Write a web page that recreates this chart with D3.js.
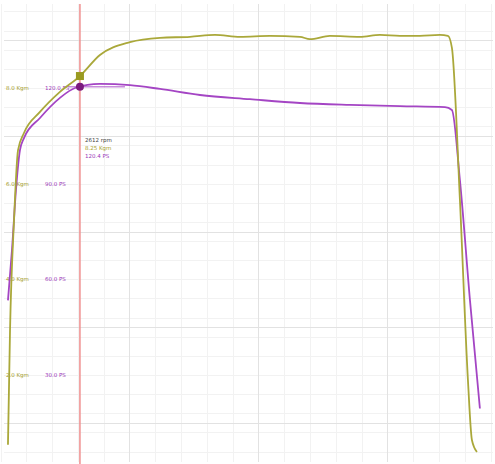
<!DOCTYPE html>
<html>
<head>
<meta charset="utf-8">
<style>
body { margin: 0; background: #fff; }
.grid line { shape-rendering: crispEdges; }
text { font-family: "DejaVu Sans", sans-serif; }
</style>
</head>
<body>
<div id="chart"></div>
<script src="https://d3js.org/d3.v7.min.js"></script>
<script>

var width = 495, height = 464;

// engine speed (rpm) and torque (Kgm) of the yellow run
var torqueRpm = [2054, 2070, 2101, 2132, 2178, 2302, 2457, 2612, 2767, 3000, 3233, 3465, 3659, 3853, 4085, 4318, 4395, 4550, 4783, 4938, 5093, 5248, 5403, 5465, 5496, 5558, 5620, 5651, 5690];
var torqueKgm = [0.54, 2.94, 5.24, 6.70, 7.06, 7.50, 7.92, 8.25, 8.69, 8.96, 9.05, 9.07, 9.11, 9.07, 9.09, 9.07, 9.02, 9.09, 9.07, 9.11, 9.09, 9.09, 9.11, 9.09, 8.84, 5.66, 1.90, 0.64, 0.39];

// power (PS) of the purple run
var powerRpm = [2054, 2085, 2116, 2147, 2178, 2302, 2457, 2574, 2767, 3000, 3233, 3543, 3930, 4318, 4705, 5093, 5442, 5496, 5558, 5636, 5713];
var powerPs = [53.4, 69.1, 88.0, 100.5, 104.3, 110.6, 116.9, 120.0, 121.3, 120.9, 119.7, 117.8, 116.5, 115.3, 114.7, 114.3, 114.0, 113.1, 91.1, 53.4, 19.5];

// scale labels on the left
var torqueLabels = [8, 6, 4, 2];
var powerLabels = [120, 90, 60, 30];

// cursor
var cursorRpm = 2612;
var cursorTorque = 8.25;
var cursorPower = 120.4;

var x = d3.scaleLinear().domain([2000, 5830]).range([1, 495]);
var yT = d3.scaleLinear().domain([8, 2]).range([88, 375]);
var yP = d3.scaleLinear().domain([120, 30]).range([88, 375]);

var svg = d3.select("#chart").append("svg")
    .attr("width", width)
    .attr("height", height);

svg.append("rect").attr("width", width).attr("height", height).attr("fill", "#fff");

var grid = svg.append("g").attr("class", "grid");

// minor grid
var minorX = d3.range(2000, 5801, 200);
var minorY = d3.range(0, 9.61, 0.4);
grid.selectAll(".vx").data(minorX).enter().append("line")
    .attr("x1", function(d) { return x(d); })
    .attr("x2", function(d) { return x(d); })
    .attr("y1", 4).attr("y2", height - 2)
    .attr("stroke", "#f2f2f2");
grid.selectAll(".hy").data(minorY).enter().append("line")
    .attr("y1", function(d) { return Math.round(yT(d)); })
    .attr("y2", function(d) { return Math.round(yT(d)); })
    .attr("x1", 4).attr("x2", width - 2)
    .attr("stroke", "#f2f2f2");

// major grid
grid.selectAll(".mx").data([3000, 4000, 5000]).enter().append("line")
    .attr("x1", function(d) { return x(d); })
    .attr("x2", function(d) { return x(d); })
    .attr("y1", 4).attr("y2", height - 2)
    .attr("stroke", "#e2e2e2");
grid.selectAll(".my").data([9, 7, 5, 3, 1]).enter().append("line")
    .attr("y1", function(d) { return Math.round(yT(d)); })
    .attr("y2", function(d) { return Math.round(yT(d)); })
    .attr("x1", 4).attr("x2", width - 2)
    .attr("stroke", "#e2e2e2");

// cursor line
svg.append("line")
    .attr("x1", x(cursorRpm)).attr("x2", x(cursorRpm))
    .attr("y1", 4).attr("y2", height)
    .attr("stroke", "#ef8f8f")
    .attr("stroke-width", 1.5);

// left labels
var labs = svg.append("g");
labs.selectAll(".tl").data(torqueLabels).enter().append("text")
    .attr("x", 6)
    .attr("y", function(d) { return yT(d) + 2; })
    .attr("font-size", 5.5)
    .attr("fill", "#a6a02c")
    .text(function(d) { return d.toFixed(1) + " Kgm"; });
labs.selectAll(".pl").data(powerLabels).enter().append("text")
    .attr("x", 45)
    .attr("y", function(d) { return yP(d) + 2; })
    .attr("font-size", 5.5)
    .attr("fill", "#9a36b8")
    .text(function(d) { return d.toFixed(1) + " PS"; });

// cursor guide to power
svg.append("line")
    .attr("x1", 68).attr("x2", x(cursorRpm) + 45)
    .attr("y1", yP(cursorPower)).attr("y2", yP(cursorPower))
    .attr("stroke", "#b15ccc").attr("stroke-width", 1.5).attr("opacity", 0.7);

var torqueLine = d3.line()
    .curve(d3.curveMonotoneX)
    .x(function(d, i) { return x(torqueRpm[i]); })
    .y(function(d) { return yT(d); });
var powerLine = d3.line()
    .curve(d3.curveMonotoneX)
    .x(function(d, i) { return x(powerRpm[i]); })
    .y(function(d) { return yP(d); });

svg.append("path")
    .attr("d", powerLine(powerPs))
    .attr("fill", "none")
    .attr("stroke", "#a445c4")
    .attr("stroke-width", 1.8);

svg.append("path")
    .attr("d", torqueLine(torqueKgm))
    .attr("fill", "none")
    .attr("stroke", "#aaa83a")
    .attr("stroke-width", 1.8);

// cursor markers
svg.append("rect")
    .attr("x", x(cursorRpm) - 4).attr("y", yT(cursorTorque) - 4)
    .attr("width", 8).attr("height", 8)
    .attr("fill", "#9a9a20");
svg.append("circle")
    .attr("cx", x(cursorRpm)).attr("cy", yP(cursorPower))
    .attr("r", 4)
    .attr("fill", "#7a1a7e");

// cursor readout
var info = svg.append("g").attr("transform", "translate(" + (x(cursorRpm) + 5) + ",142)");
info.append("text").attr("y", 0).attr("font-size", 5.5).attr("fill", "#444")
    .text(cursorRpm + " rpm");
info.append("text").attr("y", 8).attr("font-size", 5.5).attr("fill", "#a6a02c")
    .text(cursorTorque.toFixed(2) + " Kgm");
info.append("text").attr("y", 16).attr("font-size", 5.5).attr("fill", "#9a36b8")
    .text(cursorPower.toFixed(1) + " PS");

</script>
</body>
</html>
